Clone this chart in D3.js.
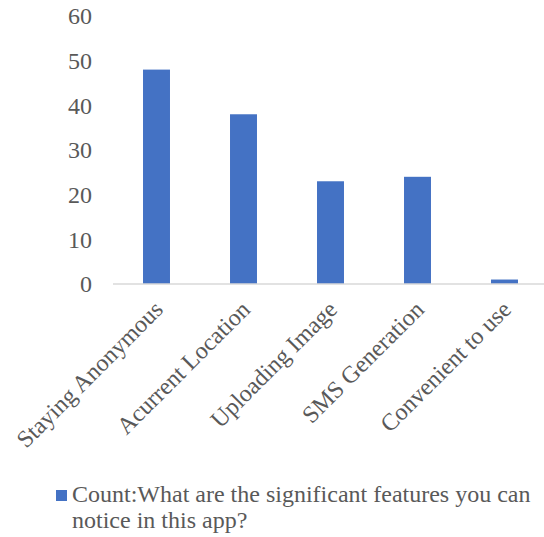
<!DOCTYPE html>
<html>
<head>
<meta charset="utf-8">
<script src="https://cdn.jsdelivr.net/npm/d3@7"></script>
<style>
  body { margin: 0; background: #fff; }
  svg { display: block; font-family: "Liberation Serif", "Times New Roman", serif; }
</style>
</head>
<body>
<div id="chart"></div>
<script>
const categories = ['Staying Anonymous', 'Acurrent Location', 'Uploading Image', 'SMS Generation', 'Convenient to use'];
const counts = [48, 38, 23, 24, 1];
const yTicks = [0, 10, 20, 30, 40, 50, 60];
const seriesName = 'Count:What are the significant features you can';
const seriesName2 = 'notice in this app?';

const width = 544;
const height = 537;
const textColor = '#595959';
const barColor = '#4472c4';

const svg = d3.select('#chart')
  .append('svg')
  .attr('width', width)
  .attr('height', height);

const xScale = d3.scaleBand()
  .domain(categories)
  .range([113, 548])
  .paddingInner(0.69)
  .paddingOuter(0.345);

const yScale = d3.scaleLinear()
  .domain([0, 60])
  .range([284, 16]);

// y labels (no axis line)
svg.append('g')
  .selectAll('text')
  .data(yTicks)
  .join('text')
  .attr('x', 92)
  .attr('y', (d) => yScale(d))
  .attr('dy', '0.35em')
  .attr('text-anchor', 'end')
  .style('font-size', '24px')
  .style('fill', textColor)
  .text((d) => d);

// bars
svg.append('g')
  .selectAll('rect')
  .data(counts)
  .join('rect')
  .attr('x', (d, i) => xScale(categories[i]))
  .attr('y', (d) => yScale(d))
  .attr('width', xScale.bandwidth())
  .attr('height', (d) => yScale(0) - yScale(d))
  .style('fill', barColor);

// x axis line
svg.append('line')
  .attr('x1', 113)
  .attr('x2', width)
  .attr('y1', yScale(0))
  .attr('y2', yScale(0))
  .style('stroke', '#d9d9d9')
  .style('stroke-width', 1.5);

// rotated category labels
svg.append('g')
  .selectAll('text')
  .data(categories)
  .join('text')
  .attr('transform', (d) => `translate(${xScale(d) + xScale.bandwidth() / 2 + 2}, 305) rotate(-45)`)
  .attr('text-anchor', 'end')
  .attr('dy', '0.35em')
  .style('font-size', '24px')
  .style('fill', textColor)
  .text((d) => d);

// legend
const legend = svg.append('g');
legend.append('rect')
  .attr('x', 56)
  .attr('y', 490)
  .attr('width', 11)
  .attr('height', 11)
  .style('fill', barColor);
legend.append('text')
  .attr('x', 72)
  .attr('y', 502)
  .style('font-size', '24px')
  .style('fill', textColor)
  .text(seriesName);
legend.append('text')
  .attr('x', 72)
  .attr('y', 528)
  .style('font-size', '24px')
  .style('fill', textColor)
  .text(seriesName2);
</script>
</body>
</html>
